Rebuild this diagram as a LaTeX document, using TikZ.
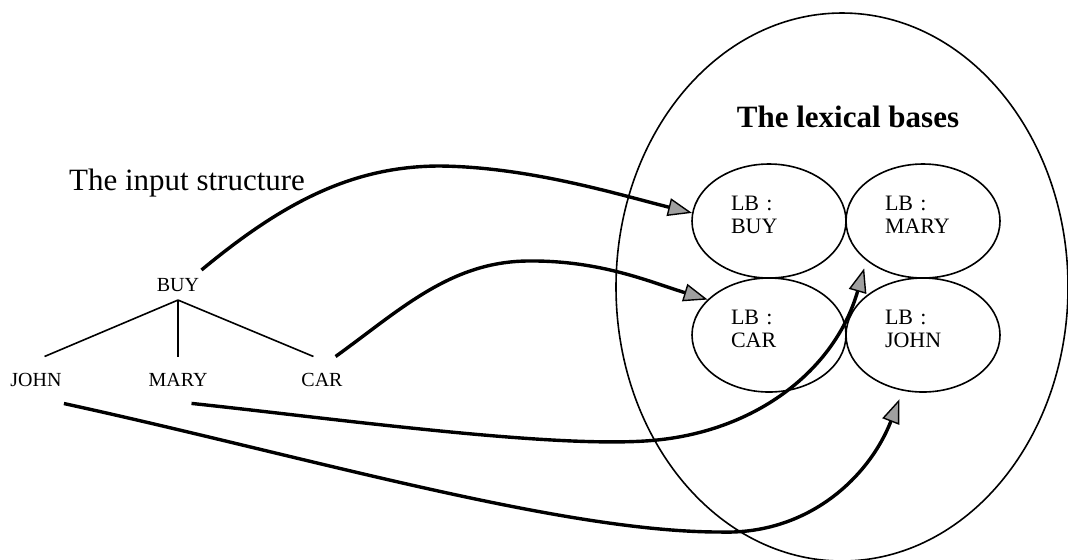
\documentclass[tikz,border=0pt]{standalone}
\usepackage{fontspec}
\setmainfont{Liberation Serif}
\usetikzlibrary{arrows.meta,shapes.geometric}
\tikzset{>=Latex,
  every node/.style={font=\fontsize{10}{12}\selectfont},
  headline/.style={font=\fontsize{15.5}{18}\selectfont,inner sep=0pt},
  root/.style={inner xsep=1pt,inner ysep=4pt},
  leaf/.style={inner xsep=1pt,inner ysep=8.2pt},
  branch/.style={draw=black,line width=.8pt},
  lexicon/.style={ellipse,draw,line width=.8pt,minimum width=226pt,minimum height=274pt},
  lbcell/.style={ellipse,draw,line width=.8pt,minimum width=77pt,minimum height=57pt},
  lbtext/.style={font=\fontsize{11}{11.5}\selectfont,text width=38pt,align=left,inner sep=0pt,yshift=3pt},
  feed/.style={line width=1.7pt,-{Triangle[length=12pt,width=9pt,line width=.7pt,fill=gray!75]}}}

\begin{document}
\begin{tikzpicture}[x=.5pt,y=-.5pt]
\useasboundingbox (0,0) rectangle (1068,559);
% input structure
\node[headline,anchor=base] (instr) at (187,190) {The input structure};
\node[root] (buy) at (178,285) {BUY};
\node[leaf] (john) at (36,380) {JOHN};
\node[leaf] (mary) at (178,380) {MARY};
\node[leaf] (car) at (322,380) {CAR};
\draw[branch] (buy.south)--(john.70);
\draw[branch] (buy.south)--(mary.north);
\draw[branch] (buy.south)--(car.110);
% lexical bases
\node[lexicon] (lex) at (842,287) {};
\node[headline,font=\fontsize{15.5}{18}\selectfont\bfseries,anchor=base] (lextitle) at (848,127) {The lexical bases};
\foreach \nm/\x/\y/\word in {lbbuy/769/221/BUY,lbmary/923/221/MARY,lbcar/769/335/CAR,lbjohn/923/335/JOHN}{
\node[lbcell] (\nm) at (\x,\y) {};
\node[lbtext] (\nm-text) at (\nm) {LB :\\\word};}
% mappings
\draw[feed] (buy.north east) .. controls (280,205) and (350,166) .. (440,166) .. controls (530,167) and (620,195) .. (lbbuy.174);
\draw[feed] (car.60) .. controls (400,310) and (450,262) .. (527,261) .. controls (600,260) and (650,282) .. (lbcar.150);
\draw[feed,shorten >=4pt] (mary.-60) .. controls (330,418) and (560,450) .. (657,440) .. controls (757,430) and (835,370) .. (lbmary.215);
\draw[feed,shorten >=4.5pt] (john.south east) .. controls (300,455) and (560,532) .. (720,532) .. controls (810,535) and (870,475) .. (lbjohn.250);
\end{tikzpicture}
\end{document}
